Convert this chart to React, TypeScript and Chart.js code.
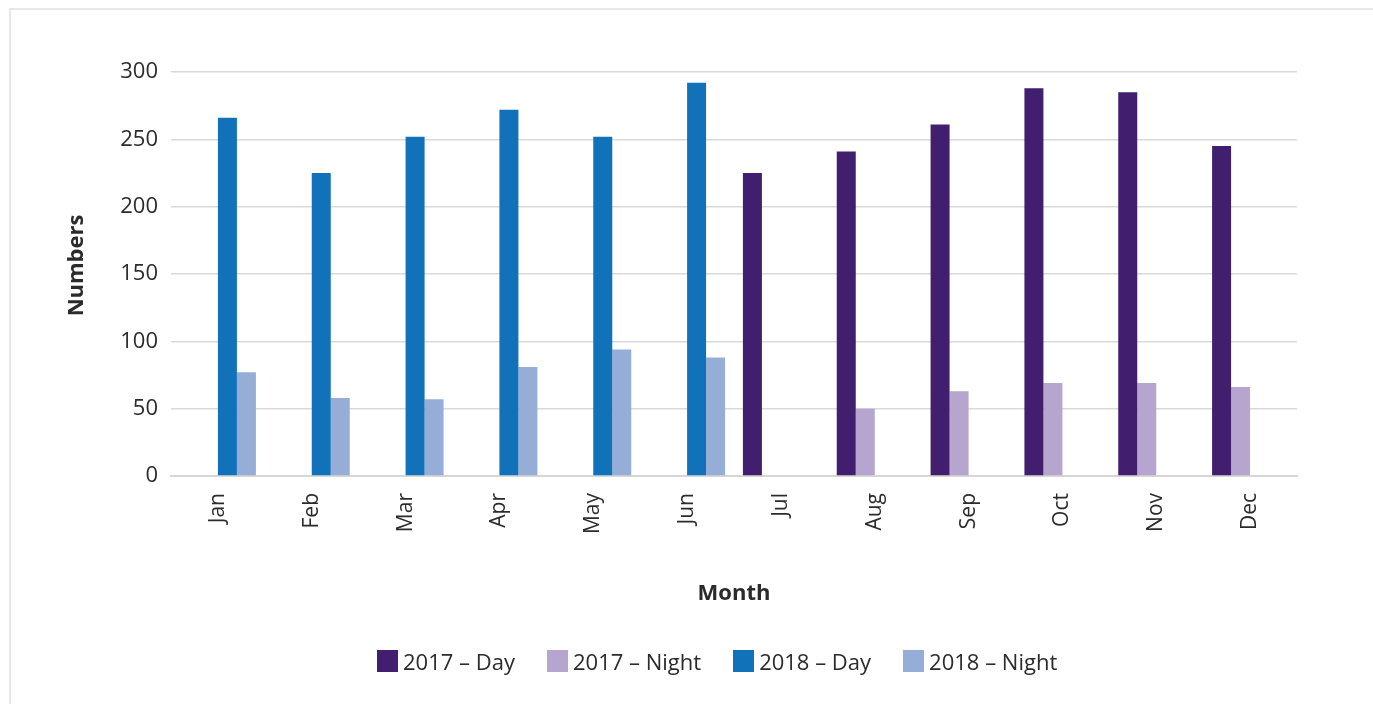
import React, { useEffect, useRef } from "react";
import { Chart, registerables } from "chart.js";

Chart.register(...registerables);

const months = ["Jan", "Feb", "Mar", "Apr", "May", "Jun", "Jul", "Aug", "Sep", "Oct", "Nov", "Dec"];
const day2017 = [null, null, null, null, null, null, 225, 241, 261, 288, 285, 245];
const night2017 = [null, null, null, null, null, null, null, 50, 63, 69, 69, 66];
const day2018 = [266, 225, 252, 272, 252, 292, null, null, null, null, null, null];
const night2018 = [77, 58, 57, 81, 94, 88, null, null, null, null, null, null];
const seriesLabels = ["2017 – Day", "2017 – Night", "2018 – Day", "2018 – Night"];
const seriesColors = ["#421f6e", "#b6a5ce", "#1172ba", "#96aed7"];

const FONT = "'Open Sans', 'Noto Sans', sans-serif";
const TEXT = "#2b2b2b";

export default function App() {
  const ref = useRef<HTMLCanvasElement | null>(null);

  useEffect(() => {
    if (!ref.current) return;
    const values = [day2017, night2017, day2018, night2018];
    const chart = new Chart(ref.current, {
      type: "bar",
      data: {
        labels: months,
        datasets: values.map((v, i) => ({
          label: seriesLabels[i],
          data: v,
          backgroundColor: seriesColors[i],
          borderWidth: 0,
          categoryPercentage: 0.81,
          barPercentage: 1,
        })),
      },
      options: {
        responsive: false,
        animation: false,
        layout: { padding: { left: 0, top: 72, right: 76, bottom: 88 } },
        plugins: {
          tooltip: { enabled: false },
          title: { display: false },
          legend: { display: false },
        },
        scales: {
          x: {
            grid: { display: false },
            border: { display: true, color: "#d6d6d6", width: 2 },
            ticks: {
              color: TEXT,
              font: { family: FONT, size: 21 },
              minRotation: 90,
              maxRotation: 90,
              padding: 9,
            },
            title: {
              display: true,
              text: "Month",
              color: TEXT,
              font: { family: FONT, size: 22, weight: "bold" },
              padding: { top: 0, bottom: 9 },
            },
            afterFit: (s: any) => {
              s.height = 140;
            },
          },
          y: {
            min: 0,
            max: 300,
            grid: { color: "#d9d9d9", lineWidth: 1.5, drawTicks: false },
            border: { display: false },
            ticks: {
              stepSize: 50,
              color: TEXT,
              font: { family: FONT, size: 22 },
              padding: 13,
            },
            title: {
              display: true,
              text: "   Numbers",
              color: TEXT,
              font: { family: FONT, size: 22, weight: "bold" },
              padding: { top: 64, bottom: 0 },
            },
            afterFit: (s: any) => {
              s.width = 171;
            },
          },
        },
      },
    });
    return () => chart.destroy();
  }, []);

  return (
    <div style={{ position: "fixed", left: 0, top: 0, width: 1373, height: 704, overflow: "hidden", background: "#fff" }}>
      <div
        style={{
          position: "absolute",
          left: 9,
          top: 8,
          width: 1364,
          height: 696,
          borderTop: "2px solid #e6e6f0",
          borderLeft: "2px solid #e6e6f0",
          boxSizing: "border-box",
        }}
      />
      <canvas ref={ref} width={1373} height={704} style={{ position: "absolute", left: 0, top: 0 }} />
      <div
        style={{
          position: "absolute",
          left: 377,
          top: 650,
          height: 22,
          display: "flex",
          alignItems: "center",
          fontFamily: FONT,
          fontSize: 22,
          lineHeight: "22px",
          color: TEXT,
          whiteSpace: "nowrap",
        }}
      >
        {seriesLabels.map((label, i) => (
          <div key={label} style={{ display: "flex", alignItems: "center", marginRight: 32 }}>
            <span style={{ display: "inline-block", width: 21, height: 22, background: seriesColors[i], marginRight: 5 }} />
            <span>{label}</span>
          </div>
        ))}
      </div>
    </div>
  );
}
